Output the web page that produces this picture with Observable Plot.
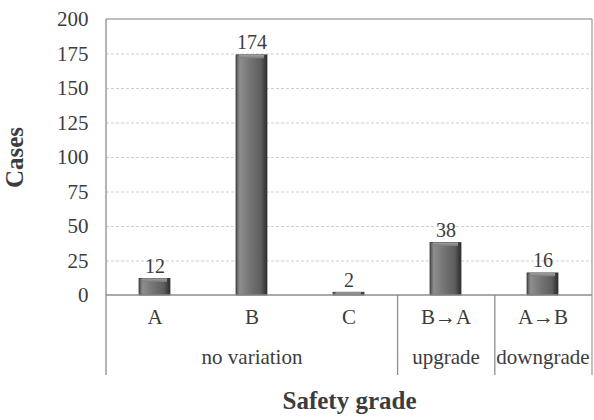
<!DOCTYPE html>
<html><head><meta charset="utf-8">
<script src="https://cdn.jsdelivr.net/npm/d3@7"></script>
<script src="https://cdn.jsdelivr.net/npm/@observablehq/plot@0.6"></script>
<style>body{margin:0;background:#fff} svg text{font-family:'Liberation Serif','Times New Roman',serif !important;}</style>
</head><body><div id="chart"></div>
<script>
const categories = ["A", "B", "C", "B→A", "A→B"];
const cases = [12, 174, 2, 38, 16];
const groupNames = ["no variation", "no variation", "no variation", "upgrade", "downgrade"];
const groupLabels = ["no variation", "upgrade", "downgrade"];
const groupCenters = ["B", "B→A", "A→B"];
const yTicks = [0, 25, 50, 75, 100, 125, 150, 175, 200];

const data = categories.map((c, i) => ({cat: c, value: cases[i], group: groupNames[i]}));
const groups = groupLabels.map((g, i) => ({label: g, cat: groupCenters[i]}));
const textColor = "#3c3c3c";
const FONT = "'Liberation Serif', 'Times New Roman', serif";

function frameLines(index, scales, values, dims) {
  const ml = dims.marginLeft, mr = dims.marginRight, mt = dims.marginTop, mb = dims.marginBottom;
  const w = dims.width, h = dims.height;
  const band = d3.scaleBand().domain(categories).range([ml, w - mr]).paddingInner(0.68).paddingOuter(0.34);
  const step = band.step();
  const y0 = h - mb, yEnd = h - mb + 80;
  const g = d3.create("svg:g");
  const line = (x1, y1, x2, y2, c) => g.append("line").attr("x1", x1).attr("y1", y1).attr("x2", x2).attr("y2", y2).attr("stroke", c).attr("stroke-width", 1.3);
  line(ml, mt, w - mr, mt, "#a8a8a8");
  line(w - mr, mt, w - mr, yEnd, "#a0a0a0");
  line(ml, mt, ml, yEnd, "#8c8c8c");
  line(ml, y0, w - mr, y0, "#8c8c8c");
  for (let i = 1; i < categories.length; i++) {
    if (groupNames[i] !== groupNames[i - 1]) {
      const x = band(categories[i]) - step * 0.34;
      line(x, y0, x, yEnd, "#8c8c8c");
    }
  }
  return g.node();
}

const chart = Plot.plot({
  width: 594,
  height: 420,
  marginLeft: 106,
  marginRight: 2,
  marginTop: 19,
  marginBottom: 125,
  style: {fontFamily: FONT, fontSize: "20px", color: textColor, background: "#fff"},
  x: {domain: categories, paddingInner: 0.68, paddingOuter: 0.34, axis: null},
  y: {domain: [0, 200], axis: null},
  marks: [
    Plot.gridY(yTicks.filter(t => t > 0 && t < 200), {stroke: "#cfcfcf", strokeOpacity: 1, strokeDasharray: "3,2"}),
    Plot.axisY(yTicks, {tickSize: 0, tickPadding: 18, fontSize: 21, fontFamily: FONT, fill: textColor, label: null}),
    Plot.barY(data, {x: "cat", y: "value", fill: "url(#barGrad)", stroke: "#3a3a3a", strokeWidth: 0.8}),
    Plot.barY(data, {x: "cat", y1: d => Math.max(0, d.value - 2.5), y2: "value", fill: "url(#topGrad)", insetLeft: 3, insetRight: 3}),
    Plot.text(data, {x: "cat", y: "value", text: d => String(d.value), lineAnchor: "bottom", dy: -6, fontSize: 20, fontFamily: FONT, fill: textColor}),
    Plot.text(data, {x: "cat", text: "cat", frameAnchor: "bottom", dy: 28, fontSize: 21, fontFamily: FONT, fill: textColor}),
    Plot.text(groups, {x: "cat", text: "label", frameAnchor: "bottom", dy: 68, fontSize: 21, fontFamily: FONT, fill: textColor}),
    Plot.text(["Safety grade"], {frameAnchor: "bottom", dy: 113, fontSize: 25, fontWeight: "bold", fontFamily: FONT, fill: textColor}),
    Plot.text(["Cases"], {frameAnchor: "left", textAnchor: "middle", dx: -92, rotate: -90, fontSize: 25, fontWeight: "bold", fontFamily: FONT, fill: textColor}),
    frameLines
  ]
});

const ns = "http://www.w3.org/2000/svg";
const defs = document.createElementNS(ns, "defs");
defs.innerHTML = `
<linearGradient id="barGrad" x1="0" x2="1" y1="0" y2="0">
  <stop offset="0" stop-color="#505050"/>
  <stop offset="0.12" stop-color="#8e8e8e"/>
  <stop offset="0.45" stop-color="#747474"/>
  <stop offset="0.8" stop-color="#5e5e5e"/>
  <stop offset="1" stop-color="#2c2c2c"/>
</linearGradient>
<linearGradient id="topGrad" x1="0" x2="0" y1="0" y2="1">
  <stop offset="0" stop-color="#a0a0a0"/>
  <stop offset="1" stop-color="#7a7a7a"/>
</linearGradient>`;
chart.insertBefore(defs, chart.firstChild);
document.getElementById("chart").appendChild(chart);
</script>
</body></html>
